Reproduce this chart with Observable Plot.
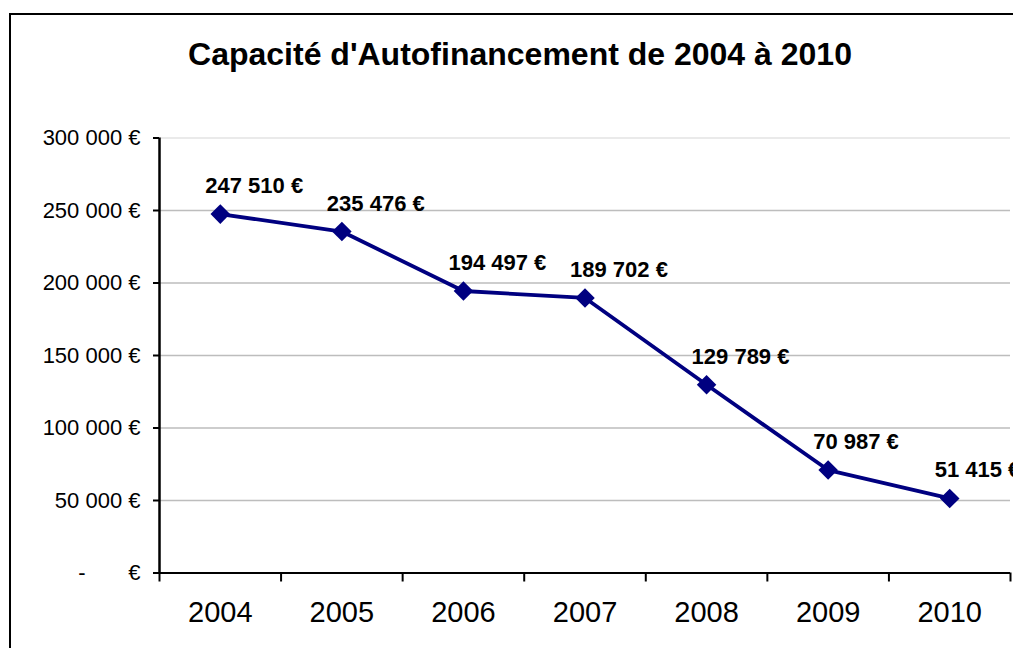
<!DOCTYPE html>
<html>
<head>
<meta charset="utf-8">
<script src="https://cdn.jsdelivr.net/npm/d3@7"></script>
<script src="https://cdn.jsdelivr.net/npm/@observablehq/plot@0.6"></script>
<style>
  html, body { margin: 0; padding: 0; background: #fff; }
  #wrap { position: relative; width: 1013px; height: 648px; overflow: hidden; font-family: "Liberation Sans", Arial, sans-serif; }
  #frame { position: absolute; left: 9px; top: 13px; width: 1020px; height: 660px; border: 2px solid #000; box-sizing: border-box; }
  #title { position: absolute; left: 0; width: 1040px; top: 36px; text-align: center; font-weight: bold; font-size: 32px; color: #000; white-space: nowrap; }
  #chart { position: absolute; left: 0; top: 0; }
</style>
</head>
<body>
<div id="wrap">
  <div id="frame"></div>
  <div id="title">Capacité d'Autofinancement de 2004 à 2010</div>
  <div id="chart"></div>
</div>
<script>
const years = [2004, 2005, 2006, 2007, 2008, 2009, 2010];
const values = [247510, 235476, 194497, 189702, 129789, 70987, 51415];
const yTicks = [0, 50000, 100000, 150000, 200000, 250000, 300000];
const yTickLabels = ["-\u00a0\u00a0\u00a0\u00a0\u00a0\u00a0\u00a0€", "50 000 €", "100 000 €", "150 000 €", "200 000 €", "250 000 €", "300 000 €"];

const fmt = v => d3.format(",")(v).replace(/,/g, " ") + " €";
const data = years.map((year, i) => ({year, value: values[i], label: fmt(values[i])}));
const boundaries = years.map(y => y - 0.5).concat([years[years.length - 1] + 0.5]);

const navy = "#000080";
const plot = Plot.plot({
  width: 1013,
  height: 648,
  marginLeft: 159,
  marginRight: 3,
  marginTop: 137.5,
  marginBottom: 75.5,
  style: {fontFamily: "'Liberation Sans', Arial, sans-serif", background: "transparent", overflow: "hidden"},
  x: {type: "linear", domain: [boundaries[0], boundaries[boundaries.length - 1]]},
  y: {domain: [0, 300000]},
  marks: [
    Plot.gridY(yTicks.filter(d => d > 0 && d < 300000), {stroke: "#bdbdbd", strokeOpacity: 1, strokeWidth: 1.3}),
    Plot.gridY([300000], {stroke: "#e3e3e3", strokeOpacity: 1, strokeWidth: 1.3}),
    Plot.axisY({ticks: yTicks, tickFormat: (d) => yTickLabels[yTicks.indexOf(d)], tickSize: 6, tickPadding: 13, fontSize: 22, label: null, stroke: "#000", strokeWidth: 2, color: "#000"}),
    Plot.axisX({ticks: boundaries, tickFormat: () => "", tickSize: 9, label: null, strokeWidth: 2}),
    Plot.axisX({ticks: years, tickFormat: d => String(d), tickSize: 0, tickPadding: 28, fontSize: 29, label: null}),
    Plot.ruleY([0], {stroke: "#000", strokeWidth: 2}),
    Plot.ruleX([boundaries[0]], {stroke: "#000", strokeWidth: 2.5}),
    Plot.line(data, {x: "year", y: "value", stroke: navy, strokeWidth: 3.8}),
    Plot.dot(data, {x: "year", y: "value", symbol: "diamond2", r: 8.8, fill: navy, stroke: "none"}),
    Plot.text(data, {x: "year", y: "value", text: "label", textAnchor: "start", dx: -15, dy: -28, fontSize: 22, fontWeight: "bold", fill: "#000"})
  ]
});
document.getElementById("chart").appendChild(plot);
</script>
</body>
</html>
